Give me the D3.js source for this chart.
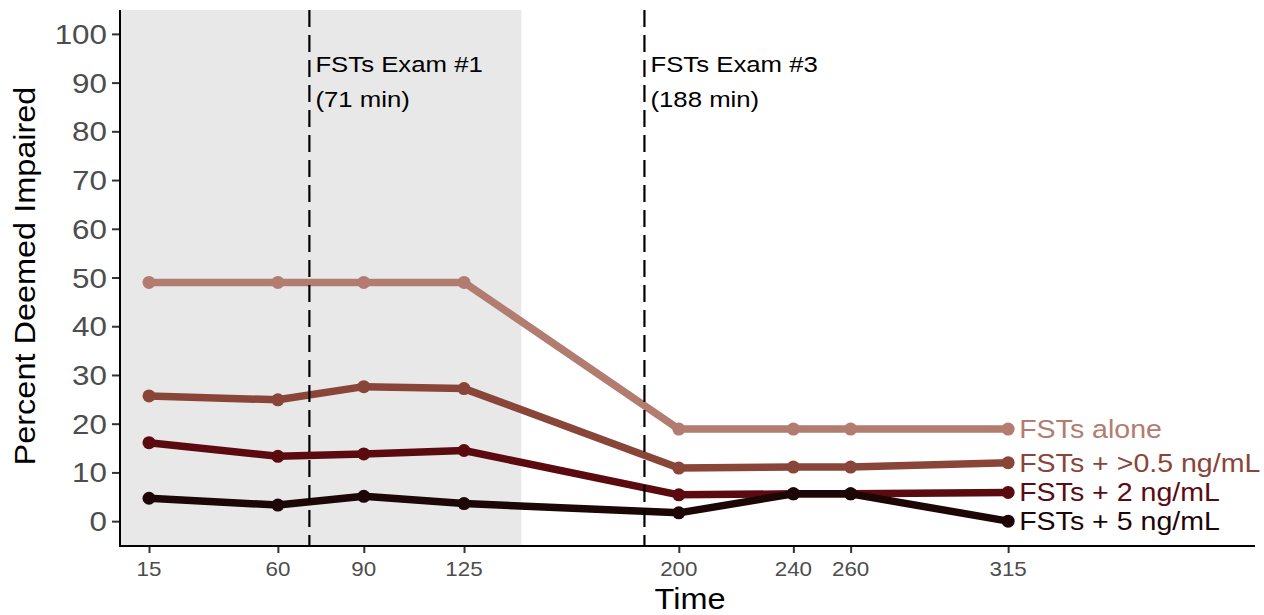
<!DOCTYPE html>
<html><head><meta charset="utf-8">
<script src="https://cdn.jsdelivr.net/npm/d3@7"></script>
<style>body{margin:0;background:#fff}svg{display:block}text{font-family:"Liberation Sans",Arial,sans-serif}</style>
</head><body><svg id="c" width="1264" height="615"></svg>
<script>
const times = [15, 60, 90, 125, 200, 240, 260, 315];
const seriesNames = ["FSTs alone", "FSTs + >0.5 ng/mL", "FSTs + 2 ng/mL", "FSTs + 5 ng/mL"];
const fstsAlone = [49.0, 49.0, 49.0, 49.0, 18.9, 18.9, 18.9, 18.9];
const fsts05 = [25.7, 24.9, 27.6, 27.2, 10.9, 11.1, 11.1, 12.0];
const fsts2 = [16.1, 13.3, 13.8, 14.5, 5.4, 5.6, 5.6, 5.9];
const fsts5 = [4.7, 3.3, 5.1, 3.6, 1.7, 5.6, 5.6, 0.0];
const seriesColors = ["#b27c70", "#8a4539", "#5b0b10", "#1c0606"];
const yTicks = [0, 10, 20, 30, 40, 50, 60, 70, 80, 90, 100];
const exams = [{t: 71, l1: "FSTs Exam #1", l2: "(71 min)"}, {t: 188, l1: "FSTs Exam #3", l2: "(188 min)"}];
const shadeEnd = 145;

const seriesValues = [fstsAlone, fsts05, fsts2, fsts5];
const L = 120, R = 1255, T = 10, B = 546, SX = 1.12;
const svg = d3.select("#c");
const x = d3.scaleLinear().domain([4.87, 401.2]).range([L, R]);
const y = d3.scaleLinear().domain([-5.1, 104.9]).range([B, T]);

function txt(g, px, py, s, size, fill, anchor, rot) {
  return g.append("text")
    .attr("transform", `translate(${px},${py})` + (rot ? ` rotate(${rot})` : "") + ` scale(${SX},1)`)
    .attr("font-size", size).attr("fill", fill).attr("text-anchor", anchor || "start").text(s);
}

// shaded region
svg.append("rect").attr("x", L).attr("y", T).attr("width", x(shadeEnd) - L).attr("height", B - T).attr("fill", "#e8e8e8");

// series
const line = d3.line().x((d, i) => x(times[i])).y(d => y(d));
seriesValues.forEach((vals, k) => {
  svg.append("path").attr("d", line(vals)).attr("fill", "none").attr("stroke", seriesColors[k])
    .attr("stroke-width", 7.5).attr("stroke-linejoin", "round").attr("stroke-linecap", "butt");
  svg.selectAll(null).data(vals).enter().append("circle")
    .attr("cx", (d, i) => x(times[i])).attr("cy", d => y(d)).attr("r", 6.5).attr("fill", seriesColors[k]);
});

// exam lines
exams.forEach(e => {
  svg.append("line").attr("x1", x(e.t)).attr("x2", x(e.t)).attr("y1", T).attr("y2", B)
    .attr("stroke", "#000").attr("stroke-width", 2.2).attr("stroke-dasharray", "17,8");
  txt(svg, x(e.t) + 6, 72, e.l1, 23, "#000");
  txt(svg, x(e.t) + 6, 107, e.l2, 23, "#000");
});

// series labels
seriesValues.forEach((vals, k) => {
  const last = vals.length - 1;
  txt(svg, x(times[last]) + 11, y(vals[last]) + 9, seriesNames[k], 25.5, seriesColors[k]);
});

// axes
const yAxis = svg.append("g").attr("transform", `translate(${L},0)`)
  .call(d3.axisLeft(y).tickValues(yTicks).tickSize(8).tickFormat(""));
const xAxis = svg.append("g").attr("transform", `translate(0,${B})`)
  .call(d3.axisBottom(x).tickValues(times).tickSize(7).tickFormat(""));
[yAxis, xAxis].forEach(a => {
  a.select(".domain").remove();
  a.selectAll(".tick line").attr("stroke", "#333").attr("stroke-width", 2);
});
yTicks.forEach(v => txt(svg, 107, y(v) + 10, String(v), 28, "#4d4d4d", "end"));
times.forEach(v => txt(svg, x(v), 576, String(v), 20, "#4d4d4d", "middle"));
svg.append("line").attr("x1", L).attr("x2", R).attr("y1", B).attr("y2", B).attr("stroke", "#000").attr("stroke-width", 2);
svg.append("line").attr("x1", L).attr("x2", L).attr("y1", T).attr("y2", B + 1).attr("stroke", "#000").attr("stroke-width", 2);

// titles
txt(svg, 690, 609, "Time", 29, "#000", "middle");
txt(svg, 35, 276, "Percent Deemed Impaired", 29, "#000", "middle", -90);
</script></body></html>
